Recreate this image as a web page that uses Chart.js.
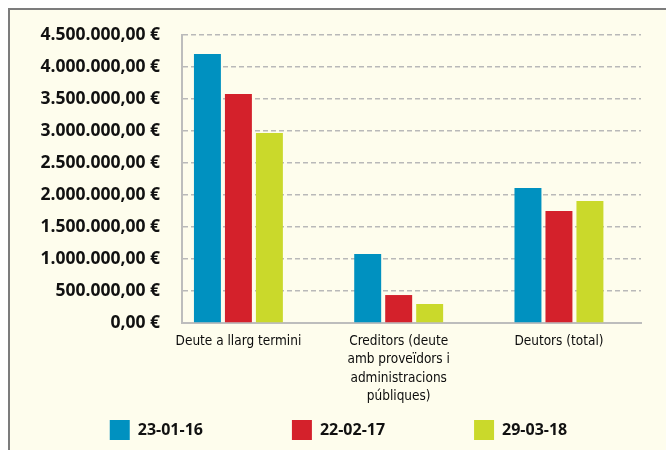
<!DOCTYPE html>
<html>
<head>
<meta charset="utf-8">
<script src="https://cdn.jsdelivr.net/npm/chart.js@4/dist/chart.umd.min.js"></script>
<style>
  html, body { margin: 0; padding: 0; background: #ffffff; }
  #frame {
    position: absolute; left: 8px; top: 8px; width: 700px; height: 500px;
    border-left: 2px solid #7c7c7c; border-top: 2px solid #7c7c7c;
    background: #fefded;
  }
  #wrap { position: absolute; left: 0; top: 0; width: 666px; height: 450px; }
</style>
</head>
<body>
<div id="frame"></div>
<div id="wrap"><canvas id="chart" width="666" height="450"></canvas></div>
<script>
const categories = [
    ['Deute a llarg termini'],
    ['Creditors (deute', 'amb proveïdors i', 'administracions', 'públiques)'],
    ['Deutors (total)']
];
const seriesNames = ['23-01-16', '22-02-17', '29-03-18'];
const values2016 = [4203000, 1078000, 2109000];
const values2017 = [3578000, 437000, 1750000];
const values2018 = [2969000, 297000, 1906000];
const seriesColors = ['#0091c0', '#d4212b', '#cad92b'];
const yTicks = [0, 500000, 1000000, 1500000, 2000000, 2500000, 3000000, 3500000, 4000000, 4500000];

function euro(v) {
    const s = Math.round(v).toString().replace(/\B(?=(\d{3})+(?!\d))/g, '.');
    return s + ',00 €';
}

const padLeft = 36;
const padRight = 25;
const legendFont = { family: 'Open Sans', weight: 'bold', size: 16 };
const legendGap = 10;
const legendStep = 185.5;

// pad legend texts with spaces so the items sit further apart
const measure = document.createElement('canvas').getContext('2d');
measure.font = 'bold 16px "Open Sans"';
function padText(t) {
    const target = legendStep - 20 - legendFont.size / 2 - legendGap;
    while (measure.measureText(t + ' ').width <= target) t += ' ';
    return t;
}

const allValues = [values2016, values2017, values2018];
const datasets = allValues.map((vals, s) => ({
    label: seriesNames[s],
    data: vals.map((v, i) => ({ x: i, y: v })),
    backgroundColor: seriesColors[s],
    borderWidth: 0,
    categoryPercentage: 0.58,
    barPercentage: 0.87
}));

const ctx = document.getElementById('chart').getContext('2d');
new Chart(ctx, {
    type: 'bar',
    data: { datasets: datasets },
    options: {
        responsive: false,
        animation: false,
        layout: { padding: { left: padLeft, right: padRight, top: 35, bottom: 0 } },
        plugins: {
            legend: {
                position: 'bottom',
                labels: {
                    boxWidth: 20,
                    boxHeight: 20,
                    padding: legendGap,
                    color: '#111111',
                    font: legendFont,
                    generateLabels: chart => {
                        const items = Chart.defaults.plugins.legend.labels.generateLabels(chart);
                        items.forEach((it, i) => {
                            it.lineWidth = 0;
                            if (i < items.length - 1) it.text = padText(it.text);
                        });
                        return items;
                    }
                }
            },
            tooltip: { enabled: false }
        },
        scales: {
            x: {
                type: 'linear',
                offset: false,
                min: -0.352,
                max: 2.512,
                afterBuildTicks: scale => {
                    scale.ticks = categories.map((c, i) => ({ value: i }));
                },
                afterFit: scale => { scale.height = 87; },
                grid: { display: false, drawTicks: false, offset: false },
                border: { display: true, color: '#bdbdbd', width: 2 },
                ticks: {
                    autoSkip: false,
                    maxRotation: 0,
                    padding: 9,
                    color: '#0c0c0c',
                    font: { family: "'DejaVu Sans Condensed', sans-serif", size: 13.5, lineHeight: 1.37 },
                    callback: value => categories[value]
                }
            },
            y: {
                min: 0,
                max: 4500000,
                afterBuildTicks: scale => {
                    scale.ticks = yTicks.map(v => ({ value: v }));
                },
                afterFit: scale => { scale.width = 182 - padLeft; },
                grid: {
                    color: ctx => ctx.tick && ctx.tick.value === 0 ? 'rgba(0,0,0,0)' : '#b9b9b9',
                    lineWidth: 1.5,
                    drawTicks: false
                },
                border: { display: true, color: '#bdbdbd', width: 2, dash: [5, 3] },
                ticks: {
                    padding: 22,
                    color: '#111111',
                    font: { family: 'Open Sans', weight: 'bold', size: 17.5 },
                    callback: v => euro(v)
                }
            }
        }
    }
});
</script>
</body>
</html>
